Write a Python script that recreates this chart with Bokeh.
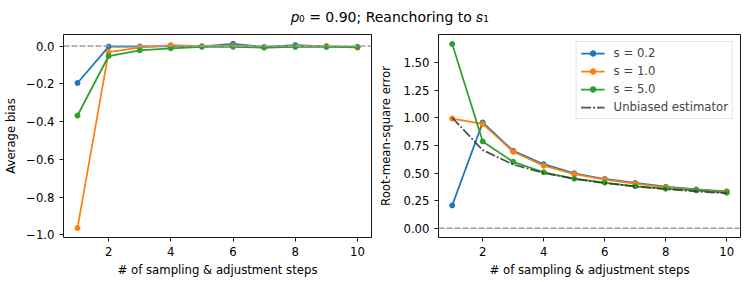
from bokeh.plotting import figure
from bokeh.models import Range1d, FixedTicker, CustomJSTickFormatter, Span, Legend, LegendItem
from bokeh.layouts import column, row
from bokeh.embed import file_html
from bokeh.resources import INLINE
from bokeh.core.properties import value

# ---- data ----
steps = [1, 2, 3, 4, 5, 6, 7, 8, 9, 10]
labels = ["s = 0.2", "s = 1.0", "s = 5.0"]
colors = ["#1f77b4", "#ff7f0e", "#2ca02c"]

bias_s02 = [-0.196, -0.003, -0.003, 0.000, -0.002, 0.012, -0.005, 0.005, -0.002, -0.005]
bias_s10 = [-0.964, -0.032, -0.008, 0.005, -0.001, 0.002, -0.008, -0.002, 0.000, -0.008]
bias_s50 = [-0.368, -0.053, -0.023, -0.012, -0.004, -0.004, -0.008, -0.005, -0.005, -0.006]

rmse_s02 = [0.207, 0.958, 0.700, 0.580, 0.498, 0.446, 0.410, 0.376, 0.351, 0.335]
rmse_s10 = [0.993, 0.944, 0.692, 0.566, 0.490, 0.440, 0.404, 0.371, 0.346, 0.330]
rmse_s50 = [1.667, 0.786, 0.601, 0.507, 0.449, 0.413, 0.380, 0.358, 0.343, 0.322]
rmse_unbiased = [1.000, 0.707, 0.577, 0.500, 0.447, 0.408, 0.378, 0.354, 0.333, 0.316]

x_ticks = [2, 4, 6, 8, 10]
bias_ticks = [-1.0, -0.8, -0.6, -0.4, -0.2, 0.0]
rmse_ticks = [0.0, 0.25, 0.5, 0.75, 1.0, 1.25, 1.5]

title_text = "\U0001D45D\u2080 = 0.90; Reanchoring to \U0001D460\u2081"
xlabel = "# of sampling & adjustment steps"

FONT = "DejaVu Sans"
FS = "11.7px"
LW = 1.75
MS = 5


def style(p, yticks, ydigits, ylabel, ylabel_standoff):
    for ax in (p.xaxis, p.yaxis):
        ax.axis_line_color = None
        ax.major_tick_out = 4
        ax.major_tick_in = 0
        ax.minor_tick_out = 0
        ax.minor_tick_in = 0
        ax.major_tick_line_color = "black"
        ax.major_tick_line_width = 0.9
        ax.major_label_text_font = FONT
        ax.major_label_text_font_size = FS
        ax.major_label_text_color = "black"
        ax.axis_label_text_font = FONT
        ax.axis_label_text_font_size = FS
        ax.axis_label_text_font_style = "normal"
        ax.axis_label_text_color = "black"
        ax.major_label_standoff = 5
    p.xaxis.axis_label_standoff = 4
    p.yaxis.axis_label_standoff = ylabel_standoff
    p.xaxis.ticker = FixedTicker(ticks=x_ticks)
    p.yaxis.ticker = FixedTicker(ticks=yticks)
    p.yaxis.formatter = CustomJSTickFormatter(
        code="return tick.toFixed(%d).replace('-', '\\u2212');" % ydigits)
    p.xaxis.axis_label = xlabel
    p.yaxis.axis_label = ylabel
    p.xgrid.visible = False
    p.ygrid.visible = False
    p.outline_line_color = "black"
    p.outline_line_width = 0.9
    p.outline_line_alpha = 1.0
    p.background_fill_color = "white"
    p.border_fill_color = "white"
    zero = Span(location=0, dimension="width", line_color="#a0a0a0",
                line_width=1.6, line_dash="6 2")
    p.add_layout(zero)


# ---- title strip ----
t = figure(width=748, height=32, x_range=Range1d(0, 748), y_range=Range1d(0, 32),
           output_backend="svg", toolbar_location=None,
           min_border=0)
t.axis.visible = False
t.grid.visible = False
t.outline_line_color = None
t.text(x=[389.5], y=[15.5], text=[title_text], text_font=value(FONT),
       text_font_size="14px", text_align="center", text_baseline="middle",
       text_color="black")

# ---- left: average bias ----
pl = figure(width=376, height=250, x_range=Range1d(0.55, 10.45),
            y_range=Range1d(-1.014, 0.061), output_backend="svg",
            toolbar_location=None, min_border_left=63, min_border_right=5,
            min_border_top=2, min_border_bottom=45)
style(pl, bias_ticks, 1, "Average bias", 5)
for ys, c in zip([bias_s02, bias_s10, bias_s50], colors):
    pl.line(steps, ys, line_color=c, line_width=LW)
    pl.scatter(steps, ys, fill_color=c, line_color=c, size=MS)

# ---- right: RMSE ----
pr = figure(width=372, height=250, x_range=Range1d(0.55, 10.45),
            y_range=Range1d(-0.0835, 1.7535), output_backend="svg",
            toolbar_location=None, min_border_left=56, min_border_right=8,
            min_border_top=2, min_border_bottom=45)
style(pr, rmse_ticks, 2, "Root-mean-square error", 7)
items = []
for ys, c, lab in zip([rmse_s02, rmse_s10, rmse_s50], colors, labels):
    r1 = pr.line(steps, ys, line_color=c, line_width=LW)
    r2 = pr.scatter(steps, ys, fill_color=c, line_color=c, size=MS)
    items.append(LegendItem(label=lab, renderers=[r1, r2]))
ru = pr.line(steps, rmse_unbiased, line_color="#333333", line_alpha=0.85,
             line_width=LW, line_dash="10 2 2 2")
items.append(LegendItem(label="Unbiased estimator", renderers=[ru]))

leg = Legend(items=items, location="top_right", margin=7, padding=4,
             spacing=4, glyph_width=24, glyph_height=14, label_height=14,
             label_standoff=9, label_text_font=FONT, label_text_font_size=FS,
             border_line_color="#cccccc", border_line_width=1,
             background_fill_alpha=0.8)
pr.add_layout(leg, "center")

layout = column(t, row(pl, pr))
open("out.html", "w").write(file_html(layout, INLINE))
